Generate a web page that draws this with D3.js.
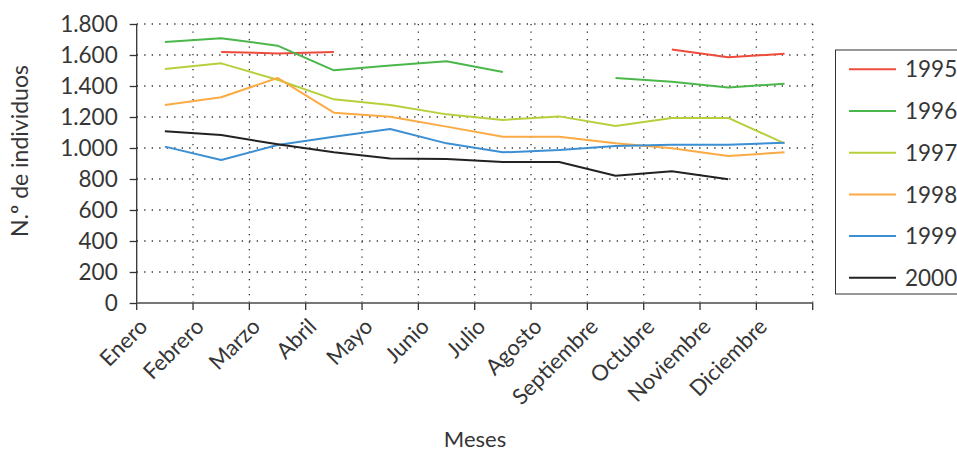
<!DOCTYPE html>
<html>
<head>
<meta charset="utf-8">
<script src="https://cdn.jsdelivr.net/npm/d3@7"></script>
<style>
  html, body { margin: 0; padding: 0; background: #fff; }
  svg text { font-family: Lato, "Open Sans", sans-serif; font-weight: 400; fill: #363636; }
</style>
</head>
<body>
<svg id="chart" width="957" height="451"></svg>
<script>
// Monthly counts of individuals per year
const months = ["Enero", "Febrero", "Marzo", "Abril", "Mayo", "Junio", "Julio",
                "Agosto", "Septiembre", "Octubre", "Noviembre", "Diciembre"];
const years = ["1995", "1996", "1997", "1998", "1999", "2000"];
const yTicks = [0, 200, 400, 600, 800, 1000, 1200, 1400, 1600, 1800];

const v1995 = [null, 1620, 1610, 1620, null, null, null, null, null, 1635, 1585, 1608];
const v1996 = [1684, 1708, 1660, 1501, 1533, 1559, 1490, null, 1452, 1427, 1390, 1415];
const v1997 = [1510, 1546, 1440, 1314, 1278, 1217, 1181, 1204, 1142, 1194, 1194, 1030];
const v1998 = [1277, 1327, 1452, 1228, 1202, 1138, 1073, 1073, 1030, 998, 948, 972];
const v1999 = [1009, 923, 1019, 1073, 1123, 1030, 972, 987, 1013, 1021, 1021, 1034];
const v2000 = [1108, 1084, 1024, 972, 933, 929, 910, 910, 821, 850, 798, null];

const seriesValues = [v1995, v1996, v1997, v1998, v1999, v2000];
const colors = ["#ee4b3b", "#4bb74a", "#b6d03b", "#fcaa43", "#3d8fd3", "#222222"];

const svg = d3.select("#chart");
const plotL = 136.7, plotR = 812.7, plotT = 24, plotB = 303;

const x = d3.scaleBand().domain(months).range([plotL, plotR]).padding(0);
const y = d3.scaleLinear().domain([0, 1800]).range([plotB, plotT]);
const cx = m => x(m) + x.bandwidth() / 2;
const fmt = d3.formatLocale({ decimal: ",", thousands: ".", grouping: [3], currency: ["", ""] }).format(",d");

// band boundaries (tick and gridline positions)
const bounds = months.map(m => x(m)).concat([plotR]);

const grid = svg.append("g").attr("stroke", "#333").attr("stroke-width", 1.3)
  .attr("stroke-dasharray", "1.3,6.2");
grid.selectAll("line.h").data(yTicks.filter(d => d > 0)).join("line")
  .attr("x1", plotL).attr("x2", plotR)
  .attr("y1", d => y(d)).attr("y2", d => y(d));
grid.selectAll("line.v").data(bounds.slice(1)).join("line")
  .attr("x1", d => d).attr("x2", d => d)
  .attr("y1", plotT).attr("y2", plotB);

// y axis
const yAxis = svg.append("g").attr("transform", `translate(${plotL},0)`)
  .call(d3.axisLeft(y).tickValues(yTicks).tickFormat(fmt).tickSize(7).tickPadding(12));
yAxis.select(".domain").attr("stroke", "#333").attr("stroke-width", 1.3)
  .attr("d", `M0,${plotT}V${plotB}`);
yAxis.selectAll(".tick line").attr("stroke", "#333").attr("stroke-width", 1.3);
yAxis.selectAll(".tick text").attr("font-size", 22.5).attr("fill", "#363636")
  .attr("font-family", "Lato, sans-serif").attr("font-weight", 400);

// x axis: line with ticks at band boundaries
const xAxis = svg.append("g");
xAxis.append("line").attr("x1", plotL).attr("x2", plotR)
  .attr("y1", plotB).attr("y2", plotB)
  .attr("stroke", "#777").attr("stroke-width", 2);
xAxis.selectAll("line.t").data(bounds).join("line")
  .attr("x1", d => d).attr("x2", d => d)
  .attr("y1", plotB).attr("y2", plotB + 7)
  .attr("stroke", "#333").attr("stroke-width", 1.3);
xAxis.selectAll("text").data(months).join("text")
  .attr("transform", d => `translate(${cx(d) - 16},${plotB + 25}) rotate(-45)`)
  .attr("text-anchor", "end")
  .attr("font-size", 22)
  .text(d => d);

// series lines
const line = d3.line()
  .defined(d => d.v != null)
  .x(d => cx(d.m))
  .y(d => y(d.v));

svg.append("g").selectAll("path").data(seriesValues).join("path")
  .attr("fill", "none")
  .attr("stroke", (d, i) => colors[i])
  .attr("stroke-width", 2)
  .attr("stroke-linejoin", "round")
  .attr("d", vals => line(vals.map((v, j) => ({ m: months[j], v }))));

// axis titles
svg.append("text")
  .attr("transform", `translate(28,151) rotate(-90)`)
  .attr("text-anchor", "middle")
  .attr("font-size", 23)
  .text("N.º de individuos");
svg.append("text")
  .attr("x", 475).attr("y", 447)
  .attr("text-anchor", "middle")
  .attr("font-size", 22)
  .text("Meses");

// legend
const legend = svg.append("g");
legend.append("rect")
  .attr("x", 835.5).attr("y", 50).attr("width", 140).attr("height", 244)
  .attr("fill", "none").attr("stroke", "#333").attr("stroke-width", 1);
const rows = legend.selectAll("g.row").data(years).join("g")
  .attr("transform", (d, i) => `translate(0,${69.3 + i * 41.7})`);
rows.append("line")
  .attr("x1", 849).attr("x2", 896).attr("y1", 0).attr("y2", 0)
  .attr("stroke", (d, i) => colors[i]).attr("stroke-width", 2);
rows.append("text")
  .attr("x", 905).attr("y", 0).attr("dy", "0.36em")
  .attr("font-size", 22.5)
  .text(d => d);
</script>
</body>
</html>
